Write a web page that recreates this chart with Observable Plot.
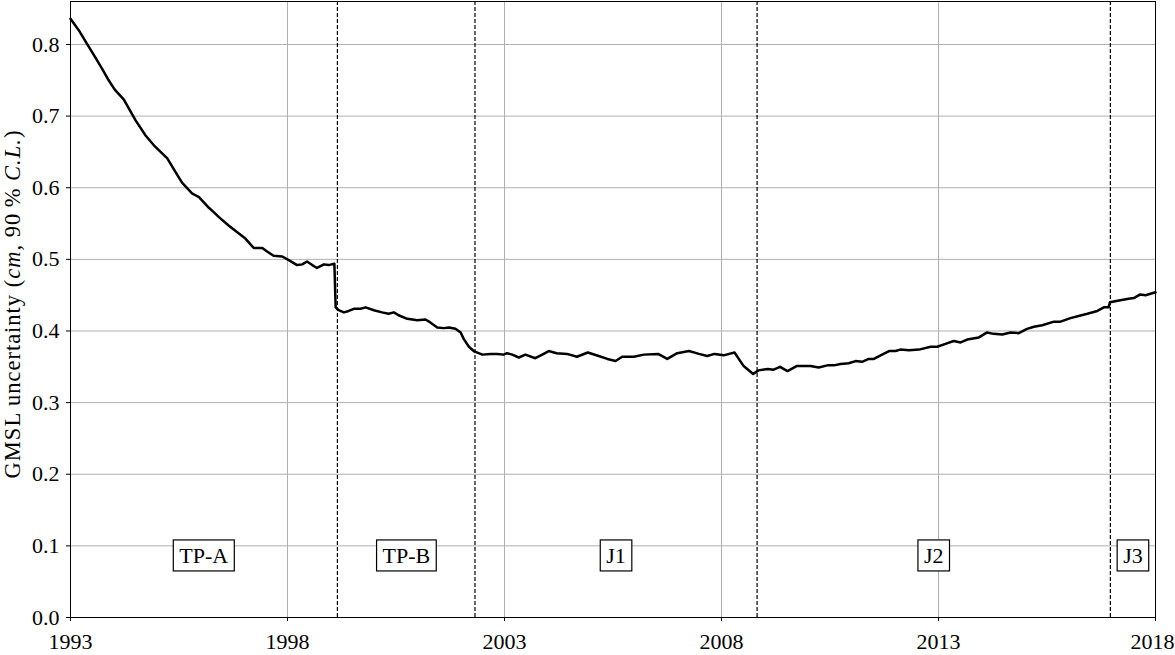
<!DOCTYPE html>
<html><head><meta charset="utf-8">
<script src="https://cdn.jsdelivr.net/npm/d3@7"></script>
<script src="https://cdn.jsdelivr.net/npm/@observablehq/plot@0.6"></script>
<style>
body{margin:0;background:#fff}
g[aria-label^="x-axis"] text, g[aria-label^="y-axis"] text {font-size:22px !important; font-family:'Liberation Serif', serif !important; fill:black}
</style>
</head><body><div id="chart"></div>
<script>
const years = [1993.00,1993.19,1993.37,1993.54,1993.73,1993.88,1994.02,1994.23,1994.34,1994.50,1994.73,1994.94,1995.23,1995.40,1995.57,1995.80,1995.96,1996.19,1996.30,1996.42,1996.65,1996.88,1997.03,1997.22,1997.42,1997.53,1997.68,1997.88,1998.03,1998.22,1998.34,1998.45,1998.57,1998.68,1998.84,1998.95,1999.08,1999.11,1999.18,1999.30,1999.41,1999.53,1999.68,1999.80,1999.99,2000.18,2000.33,2000.45,2000.56,2000.76,2000.99,2001.18,2001.29,2001.45,2001.60,2001.72,2001.87,2001.99,2002.06,2002.18,2002.29,2002.49,2002.68,2002.83,2002.98,2003.06,2003.18,2003.33,2003.48,2003.71,2003.87,2004.02,2004.20,2004.44,2004.67,2004.92,2005.17,2005.37,2005.56,2005.71,2005.98,2006.21,2006.54,2006.75,2006.98,2007.25,2007.48,2007.67,2007.84,2008.05,2008.30,2008.51,2008.73,2008.85,2009.07,2009.20,2009.35,2009.52,2009.73,2010.05,2010.24,2010.44,2010.59,2010.74,2010.93,2011.09,2011.24,2011.39,2011.51,2011.70,2011.86,2012.01,2012.12,2012.32,2012.55,2012.82,2012.97,2013.16,2013.35,2013.51,2013.66,2013.93,2014.12,2014.27,2014.47,2014.66,2014.85,2015.04,2015.20,2015.39,2015.66,2015.81,2016.04,2016.23,2016.43,2016.66,2016.81,2016.92,2016.95,2017.19,2017.38,2017.50,2017.65,2017.77,2018.00];
const uncertainty = [0.836,0.820,0.802,0.785,0.766,0.750,0.737,0.723,0.711,0.694,0.673,0.658,0.641,0.624,0.607,0.592,0.587,0.572,0.566,0.559,0.547,0.536,0.529,0.516,0.516,0.511,0.505,0.504,0.499,0.492,0.493,0.497,0.492,0.488,0.493,0.492,0.494,0.433,0.429,0.426,0.428,0.431,0.431,0.433,0.429,0.426,0.424,0.426,0.422,0.417,0.415,0.416,0.412,0.405,0.404,0.405,0.403,0.398,0.389,0.378,0.372,0.367,0.368,0.368,0.367,0.369,0.367,0.363,0.367,0.362,0.367,0.372,0.369,0.368,0.364,0.370,0.365,0.361,0.358,0.364,0.364,0.367,0.368,0.361,0.369,0.372,0.368,0.365,0.368,0.366,0.370,0.351,0.340,0.345,0.347,0.346,0.350,0.344,0.351,0.351,0.349,0.352,0.352,0.354,0.355,0.358,0.357,0.361,0.361,0.367,0.372,0.372,0.374,0.373,0.374,0.378,0.378,0.382,0.386,0.384,0.388,0.391,0.398,0.396,0.395,0.398,0.397,0.403,0.406,0.408,0.413,0.413,0.418,0.421,0.424,0.428,0.433,0.433,0.440,0.443,0.445,0.446,0.451,0.450,0.454];
const missionStarts = [1999.15, 2002.32, 2008.82, 2016.96];
const missionLabels = ["TP-A", "TP-B", "J1", "J2", "J3"];
const labelYears = [1996.07, 2000.74, 2005.57, 2012.89, 2017.48];
const labelValue = 0.086;
const xTicks = [1993, 1998, 2003, 2008, 2013, 2018];
const yTicks = [0.0, 0.1, 0.2, 0.3, 0.4, 0.5, 0.6, 0.7, 0.8];

if (years.length !== uncertainty.length) throw new Error("length mismatch " + years.length + " " + uncertainty.length);

const series = years.map((y, i) => ({year: y, value: uncertainty[i]}));
const labels = missionLabels.map((t, i) => ({name: t, year: labelYears[i], value: labelValue}));
const FONT = "'Liberation Serif', 'DejaVu Serif', serif";

const svg = Plot.plot({
  width: 1175, height: 655,
  marginLeft: 70, marginRight: 20, marginTop: 1, marginBottom: 38,
  style: {fontFamily: FONT, fontSize: "22px", background: "white", color: "black"},
  x: {domain: [1993, 2018], ticks: xTicks, tickFormat: d => String(d), label: null, tickSize: 4, tickPadding: 12},
  y: {domain: [0, 0.86], ticks: yTicks, tickFormat: d3.format(".1f"), label: null, tickSize: 4, tickPadding: 7},
  marks: [
    Plot.ruleX(xTicks.slice(1, -1), {stroke: "#b0b0b0", strokeWidth: 1}),
    Plot.ruleY(yTicks.slice(1), {stroke: "#b0b0b0", strokeWidth: 1}),
    Plot.ruleX(missionStarts, {stroke: "black", strokeWidth: 1.2, strokeDasharray: "4,2"}),
    Plot.line(series, {x: "year", y: "value", stroke: "black", strokeWidth: 2.5}),
    Plot.text(labels, {x: "year", y: "value", text: "name", fontSize: 22, fill: "black", fontFamily: FONT}),
    Plot.frame({stroke: "black", strokeWidth: 1})
  ]
});
document.getElementById("chart").appendChild(svg);

// keep the last x tick label inside the picture
d3.select(svg).selectAll('g[aria-label^="x-axis"] text').each(function () {
  if (this.textContent === "2018") this.setAttribute("dx", "-3");
});

// boxes around mission labels
d3.select(svg).selectAll('g[aria-label="text"] text').each(function () {
  const b = this.getBBox();
  const padX = 6, padY = 3;
  const t = this.getAttribute("transform");
  const r = document.createElementNS("http://www.w3.org/2000/svg", "rect");
  r.setAttribute("x", b.x - padX);
  r.setAttribute("y", b.y - padY);
  r.setAttribute("width", b.width + 2 * padX);
  r.setAttribute("height", b.height + 2 * padY);
  r.setAttribute("fill", "white");
  r.setAttribute("stroke", "black");
  r.setAttribute("stroke-width", "1.2");
  if (t) r.setAttribute("transform", t);
  this.parentNode.insertBefore(r, this);
});

// y-axis label with italic parts
const lab = d3.select(svg).append("text")
  .attr("transform", "translate(20,304) rotate(-90)")
  .attr("text-anchor", "middle")
  .attr("fill", "black")
  .style("font-family", FONT)
  .style("font-size", "22.5px")
  .style("letter-spacing", "1px");
lab.append("tspan").text("GMSL uncertainty (");
lab.append("tspan").attr("font-style", "italic").text("cm");
lab.append("tspan").text(", 90\u2009% ");
lab.append("tspan").attr("font-style", "italic").text("C.L.");
lab.append("tspan").text(")");
</script>
</body></html>
